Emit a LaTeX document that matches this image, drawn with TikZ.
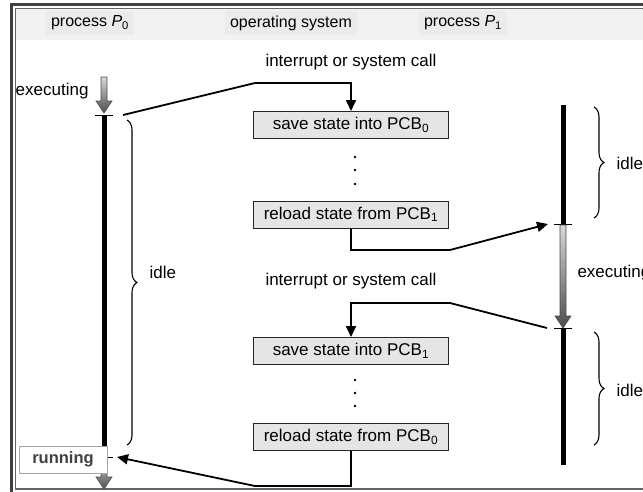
\documentclass[tikz,border=0pt]{standalone}
\usepackage{fontspec}
\setmainfont{Liberation Sans}
\usetikzlibrary{arrows.meta, decorations.pathreplacing}

% shaded downward arrow on a time line: x, top y, tip y
\newcommand{\grayarrow}[3]{%
  \shade[top color=gray!30, bottom color=gray!60!black, draw=gray!60!black, line width=0.6pt]
    ({#1-3},#2) -- ({#1+3},#2) -- ({#1+3},{#3-12}) -- ({#1+8},{#3-12}) -- (#1,#3)
    -- ({#1-8},{#3-12}) -- ({#1-3},{#3-12}) -- cycle;}

\begin{document}
\begin{tikzpicture}[
    x=1pt, y=-1pt,
    osbox/.style={rectangle, draw=black!85, line width=1pt, fill=gray!20, minimum width=195pt, minimum height=27pt, font=\fontsize{17}{20}\selectfont},
    hdr/.style={fill=gray!16, inner sep=5pt, font=\fontsize{16}{19}\selectfont},
    lbl/.style={font=\fontsize{17}{20}\selectfont},
    arrow/.style={-{Triangle[length=11pt, width=10pt]}, line width=1.8pt},
    timeline/.style={line width=5pt},
    tick/.style={line width=1pt},
    idlebrace/.style={decorate, decoration={brace, amplitude=10pt}, line width=1.1pt}
]
\useasboundingbox (0,0) rectangle (643,491);
\clip (0,0) rectangle (643,491);

% frame and header band
\fill[gray!10] (15.5,8.5) rectangle (700,40);
\draw[black!75, line width=3pt] (11,4) rectangle (700,495);
\draw[black!60, line width=1.2pt] (15.5,8.5) rectangle (700,489);

% column heads
\node[hdr] (headp0) at (90,23) {process \textit{P}\textsubscript{0}};
\node[hdr] (heados) at (291,23) {operating system};
\node[hdr] (headp1) at (463,23) {process \textit{P}\textsubscript{1}};

% process P0
\grayarrow{104}{77}{113}
\draw[timeline] (104,115) -- (104,457);
\draw[tick] (95,115) -- (113,115);
\draw[tick] (95,457) -- (113,457);
\grayarrow{104}{458}{489}
\node[draw=gray!70, fill=white, line width=0.8pt, minimum width=88pt, minimum height=27pt,
      font=\fontsize{16.5}{19}\selectfont\bfseries, text=black!75] (running) at (63,459.5) {running};
\node[lbl, anchor=east] (exec0) at (92,91) {executing};
\draw[idlebrace] (127,120) -- (127,445);
\node[lbl, anchor=west] (idle0) at (146,272) {idle};

% process P1
\draw[timeline] (563,105) -- (563,224);
\draw[tick] (554,224) -- (572,224);
\grayarrow{563}{225}{328}
\draw[tick] (554,328) -- (572,328);
\draw[timeline] (563,329) -- (563,465);
\draw[idlebrace] (594,107) -- (594,218);
\draw[idlebrace] (594,332) -- (594,445);
\node[lbl, anchor=west] (idle1) at (613,163) {idle};
\node[lbl, anchor=west] (exec1) at (574,273) {executing};
\node[lbl, anchor=west] (idle2) at (613,390) {idle};

% operating system
\node[lbl] (call0) at (351,62) {interrupt or system call};
\node[osbox] (save0) at (351,125) {save state into PCB\textsubscript{0}};
\foreach \y in {157,170,184} \fill (355,\y) circle (1.4pt);
\node[osbox] (reload1) at (351,214.5) {reload state from PCB\textsubscript{1}};
\node[lbl] (call1) at (351,281) {interrupt or system call};
\node[osbox] (save1) at (351,351) {save state into PCB\textsubscript{1}};
\foreach \y in {380,393,406} \fill (355,\y) circle (1.4pt);
\node[osbox] (reload0) at (351,437) {reload state from PCB\textsubscript{0}};

% switches
\coordinate (p0out) at (123,115);
\coordinate (p1in) at (548,224);
\coordinate (p1out) at (547,328);
\coordinate (p0in) at (117,457);
\draw[arrow] (p0out) -- (255,83) -| (save0.north);
\draw[arrow] (reload1.south) |- (450,250) -- (p1in);
\draw[arrow] (p1out) -- (450,303) -| (save1.north);
\draw[arrow] (reload0.south) |- (255,486) -- (p0in);

\end{tikzpicture}
\end{document}
